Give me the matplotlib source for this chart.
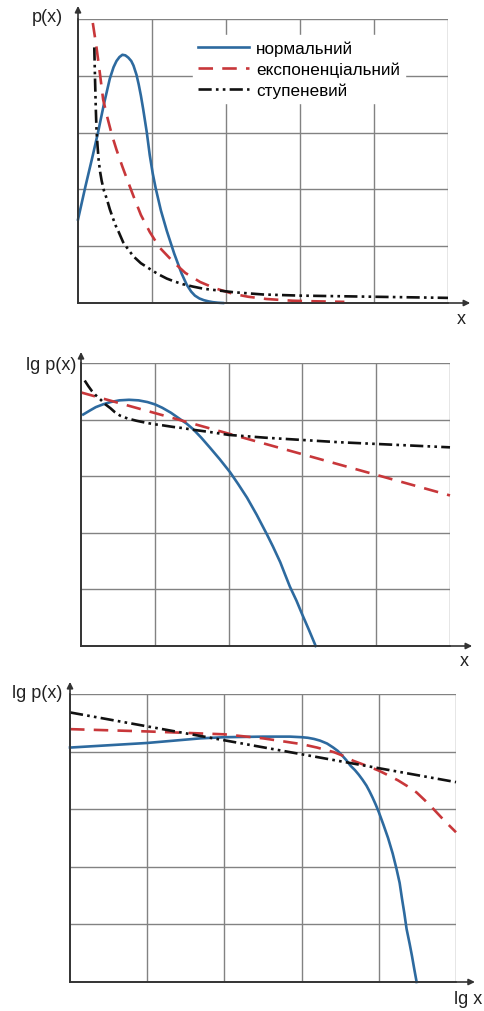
import matplotlib.pyplot as plt

plt.rcParams['font.family'] = ['Liberation Sans', 'DejaVu Sans']

labels = ['нормальний', 'експоненціальний', 'ступеневий']
colors = ['#2d6a9f', '#c8373a', '#111111']
styles = ['-', (0, (5.5, 3.5)), (0, (5, 1.6, 1, 1.6, 1, 1.6))]

# panel 1: p(x) vs x (grid units 0..5)
p1_norm_x = [0.0, 0.1, 0.2, 0.27, 0.35, 0.43, 0.48, 0.52, 0.56, 0.6, 0.64, 0.68, 0.72, 0.75, 0.79, 0.82, 0.85, 0.88, 0.93,
             0.97, 1.01, 1.05, 1.12, 1.2, 1.3, 1.4, 1.47, 1.53, 1.58, 1.64, 1.7, 1.76, 1.82, 1.89, 1.96]
p1_norm_y = [1.47, 2.05, 2.6, 3.0, 3.5, 3.95, 4.15, 4.26, 4.33, 4.37, 4.36, 4.32, 4.26, 4.18, 4.02, 3.85, 3.65, 3.42, 3.0,
             2.6, 2.28, 2.02, 1.63, 1.27, 0.87, 0.52, 0.32, 0.2, 0.13, 0.08, 0.05, 0.03, 0.015, 0.005, 0.0]
p1_exp_x = [0.2, 0.25, 0.3, 0.34, 0.4, 0.46, 0.52, 0.6, 0.68, 0.75, 0.85, 0.97, 1.1, 1.29, 1.45, 1.65, 1.85, 2.1, 2.3, 2.55,
            2.9, 3.2, 3.6]
p1_exp_y = [4.93, 4.5, 4.0, 3.58, 3.25, 2.95, 2.7, 2.4, 2.12, 1.88, 1.55, 1.25, 0.98, 0.72, 0.53, 0.37, 0.26, 0.16, 0.11,
            0.07, 0.04, 0.03, 0.02]
p1_pow_x = [0.22, 0.23, 0.24, 0.25, 0.265, 0.28, 0.3, 0.32, 0.35, 0.39, 0.43, 0.47, 0.51, 0.55, 0.61, 0.68, 0.75, 0.85,
            0.97, 1.08, 1.2, 1.3, 1.42, 1.55, 1.7, 1.9, 2.1, 2.5, 3.0, 3.5, 4.0, 4.5, 5.0]
p1_pow_y = [4.5, 3.95, 3.45, 3.05, 2.75, 2.5, 2.3, 2.15, 1.98, 1.83, 1.65, 1.5, 1.36, 1.25, 1.07, 0.94, 0.82, 0.7, 0.6,
            0.51, 0.43, 0.38, 0.33, 0.29, 0.25, 0.22, 0.19, 0.15, 0.13, 0.12, 0.11, 0.1, 0.09]

# panel 2: lg p(x) vs x
p2_norm_x = [0.03, 0.12, 0.2, 0.3, 0.4, 0.52, 0.65, 0.78, 0.9, 1.0, 1.1, 1.22, 1.34, 1.43, 1.52, 1.63, 1.75, 1.88, 2.02,
             2.13, 2.25, 2.38, 2.52, 2.6, 2.7, 2.76, 2.83, 2.92, 3.0, 3.09, 3.18]
p2_norm_y = [4.09, 4.16, 4.22, 4.27, 4.31, 4.34, 4.35, 4.34, 4.31, 4.27, 4.21, 4.12, 4.01, 3.93, 3.83, 3.68, 3.5, 3.3,
             3.07, 2.86, 2.62, 2.32, 1.97, 1.76, 1.48, 1.28, 1.05, 0.8, 0.55, 0.28, 0.0]
p2_exp_x = [0.0, 5.0]
p2_exp_y = [4.48, 2.66]
p2_pow_x = [0.05, 0.1, 0.15, 0.2, 0.26, 0.33, 0.4, 0.46, 0.53, 0.63, 0.75, 0.86, 0.98, 1.1, 1.25, 1.38, 1.52, 1.75, 2.0,
            2.5, 3.0, 3.5, 4.0, 4.5, 5.0]
p2_pow_y = [4.69, 4.59, 4.5, 4.43, 4.36, 4.27, 4.2, 4.13, 4.07, 4.02, 3.98, 3.95, 3.92, 3.9, 3.87, 3.85, 3.82, 3.78,
            3.73, 3.68, 3.64, 3.6, 3.57, 3.54, 3.51]

# panel 3: lg p(x) vs lg x
p3_norm_x = [0.0, 1.0, 1.69, 2.0, 2.5, 2.85, 3.0, 3.08, 3.16, 3.24, 3.33, 3.41, 3.47, 3.52, 3.58, 3.63, 3.69, 3.74, 3.79,
             3.84, 3.88, 3.92, 3.96, 4.0, 4.06, 4.12, 4.18, 4.23, 4.27, 4.3, 4.33, 4.36, 4.4, 4.43, 4.46, 4.49]
p3_norm_y = [4.07, 4.15, 4.23, 4.25, 4.26, 4.26, 4.25, 4.24, 4.22, 4.19, 4.14, 4.07, 4.01, 3.94, 3.85, 3.76, 3.68, 3.6,
             3.51, 3.41, 3.31, 3.2, 3.08, 2.95, 2.73, 2.5, 2.23, 1.96, 1.72, 1.45, 1.2, 0.92, 0.66, 0.45, 0.22, 0.0]
p3_exp_x = [0.0, 1.0, 2.0, 2.5, 3.0, 3.2, 3.42, 3.55, 3.67, 3.83, 4.0, 4.12, 4.25, 4.37, 4.49, 4.6, 4.71, 4.85, 5.0]
p3_exp_y = [4.39, 4.35, 4.3, 4.23, 4.13, 4.07, 3.99, 3.92, 3.84, 3.76, 3.67, 3.59, 3.5, 3.4, 3.29, 3.15, 3.0, 2.8, 2.6]
p3_pow_x = [0.0, 5.0]
p3_pow_y = [4.68, 3.47]

panels = [
    ([p1_norm_x, p1_exp_x, p1_pow_x], [p1_norm_y, p1_exp_y, p1_pow_y]),
    ([p2_norm_x, p2_exp_x, p2_pow_x], [p2_norm_y, p2_exp_y, p2_pow_y]),
    ([p3_norm_x, p3_exp_x, p3_pow_x], [p3_norm_y, p3_exp_y, p3_pow_y]),
]

W, H = 485, 1012
fig = plt.figure(figsize=(W / 100, H / 100), dpi=100)

# axes boxes in pixels: left, top, right, bottom
boxes = [(78, 20, 448, 304), (81, 364, 450, 647), (70, 695, 456, 983)]
arrow_ends = [(1.06, 1.046), (1.06, 1.039), (1.049, 1.042)]
ylabels = [('p(x)', 47, 17), ('lg p(x)', 51, 366), ('lg p(x)', 37, 693)]
xlabels = [('x', 461, 319), ('x', 464, 662), ('lg x', 468, 1000)]

for k, (l, t, r, b) in enumerate(boxes):
    ax = fig.add_axes([l / W, 1 - b / H, (r - l) / W, (b - t) / H])
    ax.set_xlim(0, 5)
    ax.set_ylim(0, 5)
    for v in range(1, 6):
        ax.axvline(v, color='#828282', lw=1.0, zorder=0)
        ax.axhline(v, color='#828282', lw=1.0, zorder=0)
    xs, ys = panels[k]
    for i in range(3):
        ax.plot(xs[i], ys[i], color=colors[i], linestyle=styles[i], lw=1.9,
                label=labels[i], clip_on=False, zorder=3)
    for s in ['top', 'right']:
        ax.spines[s].set_visible(False)
    for s in ['left', 'bottom']:
        ax.spines[s].set_color('#333333')
        ax.spines[s].set_linewidth(1.2)
    ax.set_xticks([])
    ax.set_yticks([])
    ax.patch.set_alpha(0)
    xe, ye = arrow_ends[k]
    ax.annotate('', xy=(xe, 0), xytext=(0, 0), xycoords='axes fraction',
                arrowprops=dict(arrowstyle='-|>', color='#333333', lw=1.2,
                                mutation_scale=9, shrinkA=0, shrinkB=0))
    ax.annotate('', xy=(0, ye), xytext=(0, 0), xycoords='axes fraction',
                arrowprops=dict(arrowstyle='-|>', color='#333333', lw=1.2,
                                mutation_scale=9, shrinkA=0, shrinkB=0))
    if k == 0:
        leg = ax.legend(loc='upper left', bbox_to_anchor=((193 - l) / (r - l), 1 - (36 - t) / (b - t)),
                        fontsize=12.3, frameon=True, handlelength=3.0, handletextpad=0.4,
                        labelspacing=0.33, borderpad=0.3, borderaxespad=0)
        leg.get_frame().set_edgecolor('white')
        leg.get_frame().set_facecolor('white')
        leg.get_frame().set_alpha(1)

for txt, x, y in ylabels + xlabels:
    fig.text(x / W, 1 - y / H, txt, ha='center', va='center', fontsize=13, color='#222222')

fig.savefig('out.png', dpi=100)
